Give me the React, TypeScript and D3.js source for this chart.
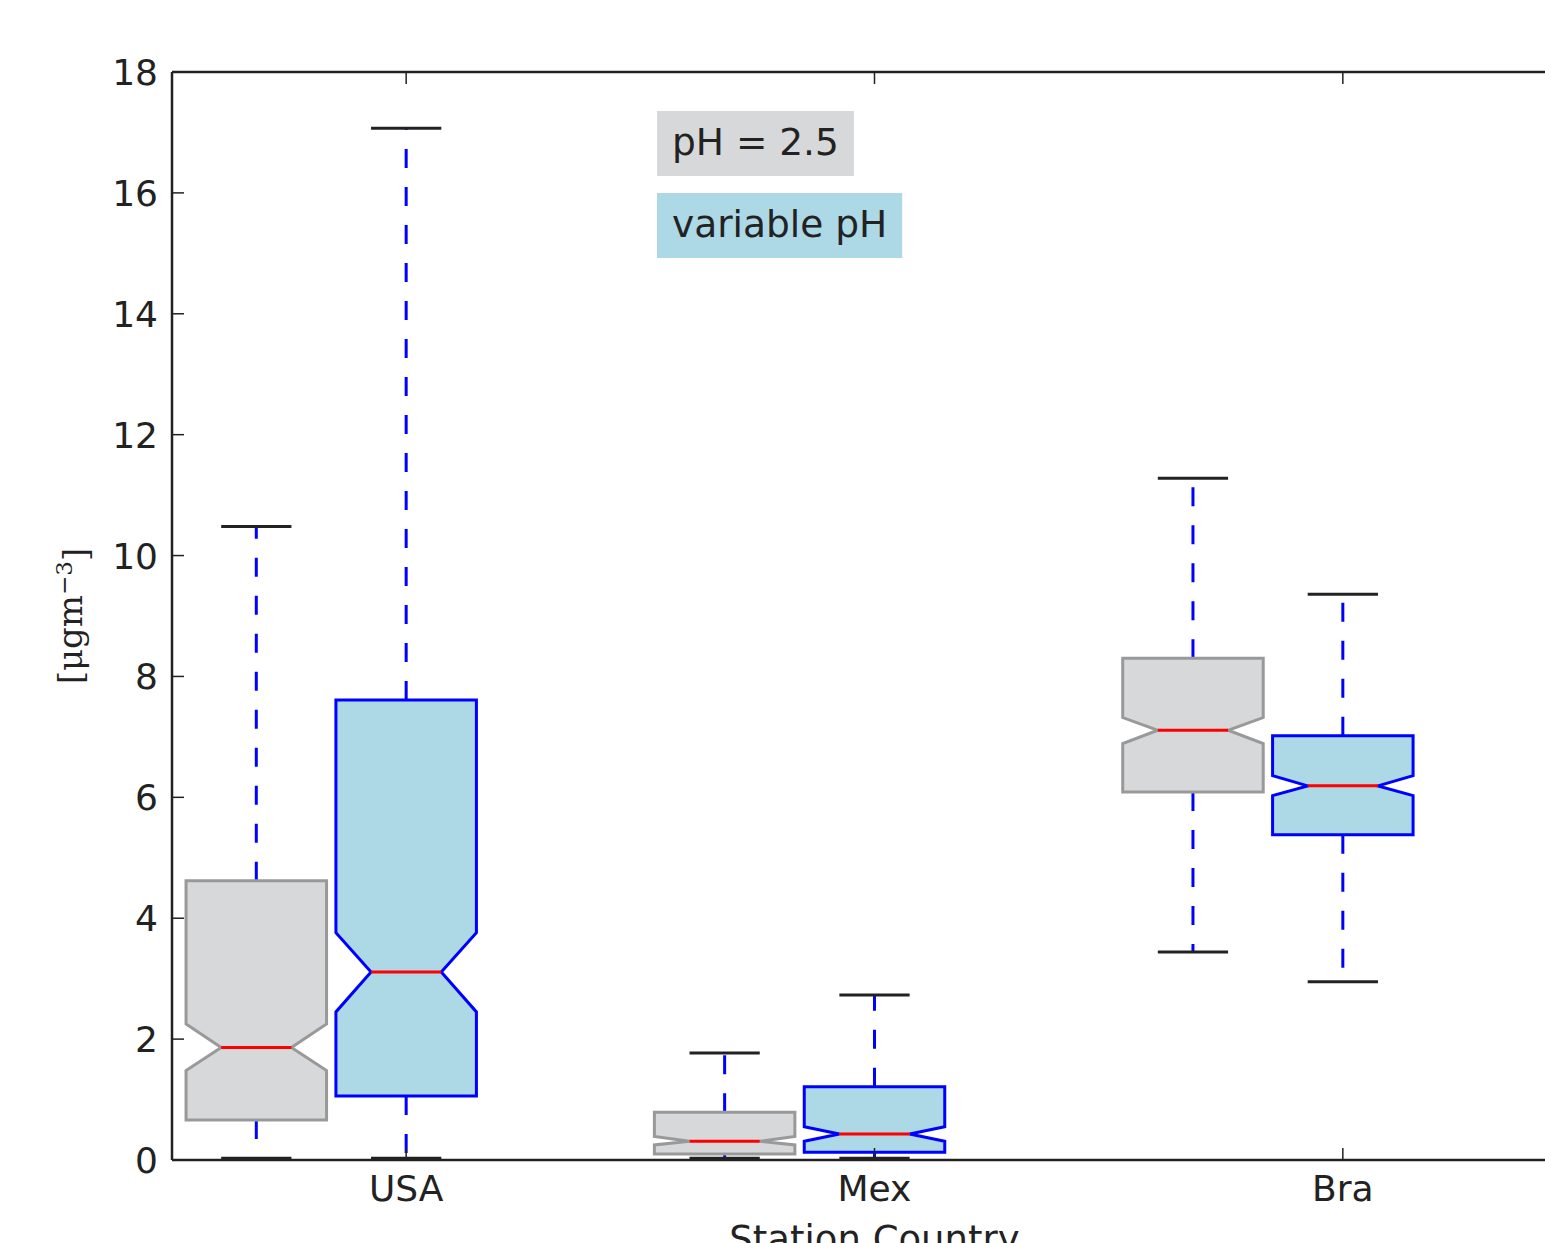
import { useEffect, useRef } from 'react';
import * as d3 from 'd3';

// categories and series
const countries = ['USA', 'Mex', 'Bra'];
const seriesNames = ['pH = 2.5', 'variable pH'];

// box stats per country: [lowCap, q1, notchLo, median, notchHi, q3, highCap]
const fixedPH = [
  [0.03, 0.66, 1.48, 1.86, 2.25, 4.62, 10.48],
  [0.03, 0.1, 0.25, 0.31, 0.39, 0.79, 1.77],
  [3.44, 6.09, 6.89, 7.11, 7.32, 8.3, 11.28],
];
const variablePH = [
  [0.03, 1.06, 2.45, 3.11, 3.76, 7.61, 17.07],
  [0.03, 0.13, 0.31, 0.43, 0.55, 1.21, 2.73],
  [2.95, 5.38, 6.03, 6.19, 6.36, 7.02, 9.36],
];
const yTicks = [0, 2, 4, 6, 8, 10, 12, 14, 16, 18];

const W = 1545;
const H = 1243;

const App = () => {
  const svgRef = useRef<SVGSVGElement | null>(null);

  useEffect(() => {
    const svg = d3.select(svgRef.current);
    svg.selectAll('*').remove();

    const left = 172, right = 1577, top = 72, bottom = 1160;
    const font = 'DejaVu Sans, sans-serif';
    const ink = '#222';

    const x = d3.scaleLinear().domain([0.5, 3.5]).range([left, right]);
    const y = d3.scaleLinear().domain([0, 18]).range([bottom, top]);

    const boxW = 0.3;
    const groups = [
      { data: fixedPH, offset: -0.32, fill: '#d7d8da', stroke: '#999999' },
      { data: variablePH, offset: 0, fill: '#add8e6', stroke: '#0000ff' },
    ];

    const g = svg.append('g');

    groups.forEach(grp => {
      grp.data.forEach((d, i) => {
        const [lo, q1, nLo, med, nHi, q3, hi] = d;
        const cx = x(i + 1 + grp.offset);
        const x0 = x(i + 1 + grp.offset - boxW / 2);
        const x1 = x(i + 1 + grp.offset + boxW / 2);
        const inset = (x1 - x0) / 4;

        // whiskers, dashed from box edge to cap
        g.append('line')
          .attr('x1', cx).attr('x2', cx)
          .attr('y1', y(q3)).attr('y2', y(hi))
          .attr('stroke', '#0000ff').attr('stroke-width', 3)
          .attr('stroke-dasharray', '19,19');
        g.append('line')
          .attr('x1', cx).attr('x2', cx)
          .attr('y1', y(q1)).attr('y2', y(lo))
          .attr('stroke', '#0000ff').attr('stroke-width', 3)
          .attr('stroke-dasharray', '19,19');

        // caps
        [lo, hi].forEach(v => {
          g.append('line')
            .attr('x1', cx - inset).attr('x2', cx + inset)
            .attr('y1', y(v)).attr('y2', y(v))
            .attr('stroke', ink).attr('stroke-width', 3);
        });

        // notched box
        const pts: [number, number][] = [
          [x0, y(q1)], [x0, y(nLo)], [x0 + inset, y(med)], [x0, y(nHi)], [x0, y(q3)],
          [x1, y(q3)], [x1, y(nHi)], [x1 - inset, y(med)], [x1, y(nLo)], [x1, y(q1)],
        ];
        g.append('path')
          .attr('d', d3.line()(pts) + 'Z')
          .attr('fill', grp.fill)
          .attr('stroke', grp.stroke)
          .attr('stroke-width', 3)
          .attr('stroke-linejoin', 'miter');

        // median
        g.append('line')
          .attr('x1', x0 + inset).attr('x2', x1 - inset)
          .attr('y1', y(med)).attr('y2', y(med))
          .attr('stroke', '#ff0000').attr('stroke-width', 3);
      });
    });

    // axes frame
    const ax = svg.append('g');
    ax.append('line').attr('x1', left).attr('x2', left).attr('y1', top).attr('y2', bottom)
      .attr('stroke', ink).attr('stroke-width', 2.5);
    ax.append('line').attr('x1', left).attr('x2', right).attr('y1', bottom).attr('y2', bottom)
      .attr('stroke', ink).attr('stroke-width', 2.5);
    ax.append('line').attr('x1', left).attr('x2', right).attr('y1', top).attr('y2', top)
      .attr('stroke', ink).attr('stroke-width', 2.5);
    ax.append('line').attr('x1', right).attr('x2', right).attr('y1', top).attr('y2', bottom)
      .attr('stroke', ink).attr('stroke-width', 2.5);

    // y ticks
    yTicks.forEach(t => {
      ax.append('line').attr('x1', left).attr('x2', left + 12)
        .attr('y1', y(t)).attr('y2', y(t)).attr('stroke', ink).attr('stroke-width', 1.5);
      ax.append('line').attr('x1', right).attr('x2', right - 12)
        .attr('y1', y(t)).attr('y2', y(t)).attr('stroke', ink).attr('stroke-width', 1.5);
      ax.append('text')
        .attr('x', left - 14).attr('y', y(t)).attr('dy', '0.36em')
        .attr('text-anchor', 'end')
        .style('font-family', font).style('font-size', '36px').style('fill', ink)
        .text(t);
    });

    // x ticks
    countries.forEach((c, i) => {
      const px = x(i + 1);
      ax.append('line').attr('x1', px).attr('x2', px).attr('y1', bottom).attr('y2', bottom - 12)
        .attr('stroke', ink).attr('stroke-width', 1.5);
      ax.append('line').attr('x1', px).attr('x2', px).attr('y1', top).attr('y2', top + 12)
        .attr('stroke', ink).attr('stroke-width', 1.5);
      ax.append('text')
        .attr('x', px).attr('y', 1201)
        .attr('text-anchor', 'middle')
        .style('font-family', font).style('font-size', '36px').style('fill', ink)
        .text(c);
    });

    // axis labels (the x label is clipped by the figure edge, as in the source)
    ax.append('text')
      .attr('x', (left + right) / 2).attr('y', 1252)
      .attr('text-anchor', 'middle')
      .style('font-family', font).style('font-size', '37px').style('fill', ink)
      .text('Station Country');

    const yl = ax.append('text')
      .attr('transform', `translate(82,616) rotate(-90)`)
      .attr('text-anchor', 'middle')
      .style('font-family', 'DejaVu Serif, serif').style('font-size', '34px').style('fill', ink);
    yl.append('tspan').text('[μgm');
    yl.append('tspan').attr('dy', '-0.45em').style('font-size', '23px').text('−3');
    yl.append('tspan').attr('dy', '0.45em').text(']');

    // legend labels
    const legendColors = ['#d7d8da', '#add8e6'];
    const legendY = [111, 193];
    seriesNames.forEach((name, i) => {
      const t = ax.append('text')
        .attr('x', 672).attr('y', legendY[i] + 30).attr('dy', '0.36em')
        .style('font-family', font).style('font-size', '37.5px').style('fill', ink)
        .text(name);
      const bw = (t.node() as SVGTextElement).getComputedTextLength();
      ax.insert('rect', 'text')
        .attr('x', 657).attr('y', legendY[i])
        .attr('width', bw + 30).attr('height', 65)
        .attr('fill', legendColors[i]);
    });
  }, []);

  return (
    <svg
      ref={svgRef}
      width={W}
      height={H}
      style={{ position: 'absolute', left: 0, top: 0, background: '#fff' }}
    />
  );
};

export default App;
